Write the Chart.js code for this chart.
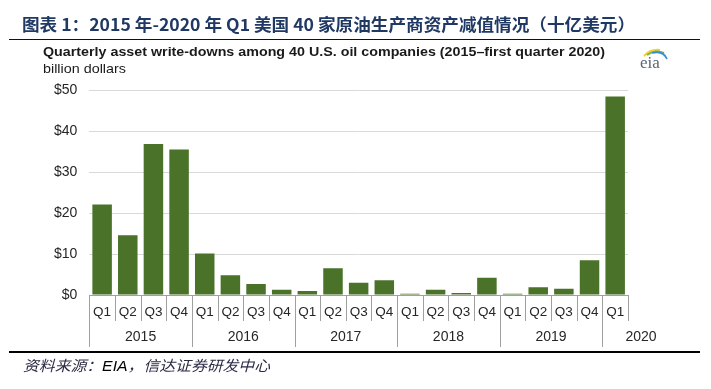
<!DOCTYPE html>
<html><head><meta charset="utf-8">
<script src="https://cdn.jsdelivr.net/npm/chart.js@4"></script>
<style>
html,body{margin:0;padding:0;background:#fff;width:711px;height:389px;overflow:hidden;position:relative}
canvas{position:absolute;left:0;top:0}
.t{position:absolute;white-space:nowrap;transform-origin:0 50%;}
#title{left:22px;top:12px;line-height:22px;font:bold 16.5px "Noto Sans CJK SC",sans-serif;color:#1f3864;}
#rule1{position:absolute;left:9px;top:39px;width:691px;height:1px;background:#111;}
#sub{left:43px;top:44px;line-height:16px;font:bold 13.5px "Liberation Sans",Arial,sans-serif;color:#1a1a1a;}
#unit{left:43px;top:61px;line-height:16px;font:13.5px "Liberation Sans",Arial,sans-serif;color:#1a1a1a;}
#rule2{position:absolute;left:9px;top:351px;width:691px;height:2px;background:#000;}
#foot{left:23px;top:354px;line-height:18px;font:italic 14.5px "Noto Sans CJK SC",sans-serif;color:#2b2b45;}
#foot b{font-family:"Liberation Sans",Arial,sans-serif;font-weight:normal;color:#000;}
#logo{position:absolute;left:638px;top:45px;}
</style></head>
<body>
<canvas id="c" width="711" height="389"></canvas>
<div class="t" id="title" data-w="613">图表 1：2015 年-2020 年 Q1 美国 40 家原油生产商资产减值情况（十亿美元）</div>
<div id="rule1"></div>
<div class="t" id="sub" data-w="562">Quarterly asset write-downs among 40 U.S. oil companies (2015–first quarter 2020)</div>
<div class="t" id="unit" data-w="83">billion dollars</div>
<svg id="logo" width="34" height="26" viewBox="0 0 34 26">
  <path d="M6 11 Q12 4 22 5" stroke="#f2d13a" stroke-width="2" fill="none"/>
  <path d="M9 10 Q17 4 26 8" stroke="#7cba3f" stroke-width="2" fill="none"/>
  <path d="M14 8 Q25 5 29 14" stroke="#3a8fd0" stroke-width="1.8" fill="none"/>
  <text x="2" y="23" font-family="Liberation Serif, DejaVu Serif, serif" font-size="17" fill="#5a6672">eia</text>
</svg>
<div id="rule2"></div>
<div class="t" id="foot" data-w="247">资料来源：<b>EIA</b>，信达证券研发中心</div>
<script>
const quarters = ["Q1","Q2","Q3","Q4","Q1","Q2","Q3","Q4","Q1","Q2","Q3","Q4","Q1","Q2","Q3","Q4","Q1","Q2","Q3","Q4","Q1"];
const years = ["2015","2016","2017","2018","2019","2020"];
const quartersPerYear = [4,4,4,4,4,1];
const writeDowns = [22.1,14.6,36.8,35.5,10.1,4.8,2.7,1.3,1.0,6.5,3.0,3.6,0.3,1.3,0.5,4.2,0.3,1.9,1.5,8.5,48.4];
const yTicks = [0,10,20,30,40,50];

document.querySelectorAll('.t').forEach(el=>{
  const target = +el.dataset.w;
  const w = el.getBoundingClientRect().width;
  if (w>0) el.style.transform = 'scaleX(' + (target/w) + ')';
});

const axisPlugin = {
  id:'multiAxis',
  afterDraw(chart){
    const ctx = chart.ctx, xs = chart.scales.x, y0 = chart.chartArea.bottom;
    const n = quarters.length;
    const cw = (xs.right - xs.left)/n;
    const bounds = [0]; let acc=0;
    quartersPerYear.forEach(c=>{acc+=c; bounds.push(acc);});
    ctx.save();
    ctx.strokeStyle = '#a0a0a0'; ctx.lineWidth = 1;
    for (let i=0;i<=n;i++){
      const x = (i<n ? xs.getPixelForValue(i) - cw/2 : xs.getPixelForValue(n-1) + cw/2);
      const isYear = bounds.includes(i) && i<n;
      const bottom = isYear ? y0+52 : y0+26;
      const px = Math.round(x)+0.5;
      ctx.beginPath(); ctx.moveTo(px,y0); ctx.lineTo(px,bottom); ctx.stroke();
    }
    ctx.fillStyle = '#262626';
    ctx.textAlign='center'; ctx.textBaseline='middle';
    ctx.font = '13.5px "Liberation Sans", Arial, sans-serif';
    quarters.forEach((q,i)=>ctx.fillText(q, xs.getPixelForValue(i), y0+17));
    ctx.font = '14px "Liberation Sans", Arial, sans-serif';
    years.forEach((yr,k)=>{
      const a = bounds[k], b = bounds[k+1];
      const xa = xs.getPixelForValue(a) - cw/2, xb = xs.getPixelForValue(b-1) + cw/2;
      const cx = (b-a)>1 ? (xa+xb)/2 : xb + 13;
      ctx.fillText(yr, cx, y0+42);
    });
    ctx.restore();
  }
};

new Chart(document.getElementById('c').getContext('2d'), {
  type:'bar',
  data:{labels:quarters, datasets:[{data:writeDowns, backgroundColor:'#4a7229', barPercentage:0.76, categoryPercentage:1}]},
  options:{
    responsive:false, animation:false, devicePixelRatio:1,
    layout:{padding:{left:0,right:83,top:90,bottom:0}},
    plugins:{legend:{display:false},tooltip:{enabled:false}},
    scales:{
      x:{grid:{display:false}, border:{display:true,color:'#a0a0a0'}, ticks:{display:false},
         afterFit(s){s.height=94;}},
      y:{min:0,max:50,
         afterBuildTicks(s){s.ticks = yTicks.map(v=>({value:v}));},
         ticks:{callback:v=>'$'+v, padding:12, color:'#262626', font:{family:'Liberation Sans', size:14}},
         grid:{color:'#d9d9d9', drawTicks:false}, border:{display:false},
         afterFit(s){s.width=89.3;}}
    }
  },
  plugins:[axisPlugin]
});
</script>
</body></html>
